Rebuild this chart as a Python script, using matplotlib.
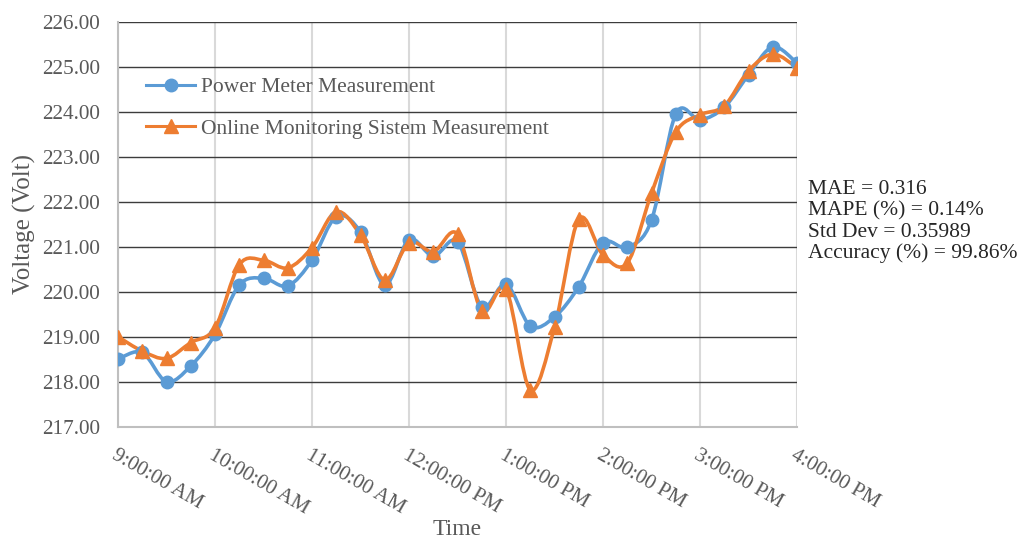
import numpy as np
import matplotlib
matplotlib.use('Agg')
import matplotlib.pyplot as plt
from matplotlib.path import Path
from matplotlib.patches import PathPatch
from matplotlib.lines import Line2D

plt.rcParams['font.family'] = ['Liberation Serif', 'DejaVu Serif']

# readings every 15 minutes, 9:00 AM - 4:00 PM
power_meter = [218.50, 218.65, 218.00, 218.35, 219.05, 220.15, 220.30, 220.13, 220.70,
               221.67, 221.33, 220.15, 221.16, 220.79, 221.11, 219.67, 220.17, 219.24,
               219.44, 220.11, 221.09, 220.99, 221.59, 223.95, 223.82, 224.10, 224.82,
               225.44, 225.08]
online_monitoring = [219.00, 218.68, 218.52, 218.87, 219.20, 220.60, 220.70, 220.53, 220.98,
                     221.78, 221.26, 220.26, 221.09, 220.89, 221.28, 219.58, 220.05, 217.82,
                     219.21, 221.61, 220.82, 220.64, 222.19, 223.55, 223.93, 224.13, 224.91,
                     225.28, 224.98]
hour_labels = ['9:00:00 AM', '10:00:00 AM', '11:00:00 AM', '12:00:00 PM',
               '1:00:00 PM', '2:00:00 PM', '3:00:00 PM', '4:00:00 PM']
stats_text = 'MAE = 0.316\nMAPE (%) = 0.14%\nStd Dev = 0.35989\nAccuracy (%) = 99.86%'

blue = '#5B9BD5'
orange = '#ED7D31'
text_col = '#595959'


def smooth_path(xs, ys):
    # cubic bezier through every point (Catmull-Rom style tangents)
    pts = np.column_stack([xs, ys])
    verts = [pts[0]]
    codes = [Path.MOVETO]
    n = len(pts)
    for i in range(n - 1):
        p0 = pts[i - 1] if i > 0 else pts[i]
        p1 = pts[i]
        p2 = pts[i + 1]
        p3 = pts[i + 2] if i + 2 < n else pts[i + 1]
        c1 = p1 + (p2 - p0) / 6.0
        c2 = p2 - (p3 - p1) / 6.0
        verts += [c1, c2, p2]
        codes += [Path.CURVE4] * 3
    return Path(verts, codes)


x = np.arange(len(power_meter))

fig = plt.figure(figsize=(10.2, 5.39), dpi=100)
ax = fig.add_axes([0.1157, 0.2083, 0.6657, 0.7514])

for series, col, mk, ms in [(power_meter, blue, 'o', 9), (online_monitoring, orange, '^', 10)]:
    ax.add_patch(PathPatch(smooth_path(x, series), facecolor='none', edgecolor=col,
                           lw=2.6, capstyle='round', joinstyle='round', zorder=3))
    ax.plot(x, series, linestyle='none', marker=mk, markersize=ms, color=col, zorder=4)

ax.set_xlim(0, 28)
ax.set_ylim(217, 226)
ax.set_yticks(np.arange(217, 227, 1))
ax.set_yticklabels([f'{v:.2f}' for v in np.arange(217, 227, 1)])
ax.set_xticks(np.arange(0, 29, 4))
ax.set_xticklabels(hour_labels, rotation=-30, ha='left', va='top', rotation_mode='anchor')

ax.grid(axis='y', color='#3c3c3c', lw=1.0)
ax.grid(axis='x', color='#d9d9d9', lw=1.5)
ax.set_axisbelow(True)
for side in ['top', 'right']:
    ax.spines[side].set_visible(False)
ax.spines['left'].set_color('#bfbfbf')
ax.spines['bottom'].set_color('#bfbfbf')
ax.spines['left'].set_linewidth(1.5)
ax.spines['bottom'].set_linewidth(1.5)
ax.tick_params(length=0, labelsize=15.3, labelcolor=text_col)
ax.tick_params(axis='y', pad=13)
ax.tick_params(axis='x', pad=14, labelsize=15)

ax.set_ylabel('Voltage (Volt)', fontsize=18, color=text_col, labelpad=4)
ax.set_xlabel('Time', fontsize=17, color=text_col, labelpad=0)

handles = [Line2D([], [], color=blue, lw=2.2, marker='o', markersize=9),
           Line2D([], [], color=orange, lw=2.2, marker='^', markersize=10)]
ax.legend(handles, ['Power Meter Measurement', 'Online Monitoring Sistem Measurement'],
          loc='upper left', bbox_to_anchor=(0.025, 0.89), frameon=False, fontsize=15.5,
          labelcolor=text_col, handlelength=2.3, handletextpad=0.25, labelspacing=1.0,
          borderpad=0)

fig.text(0.792, 0.666, stats_text, fontsize=15.5, color='#262626', va='top', ha='left',
         linespacing=1.15)

fig.savefig('out.png', dpi=100)
